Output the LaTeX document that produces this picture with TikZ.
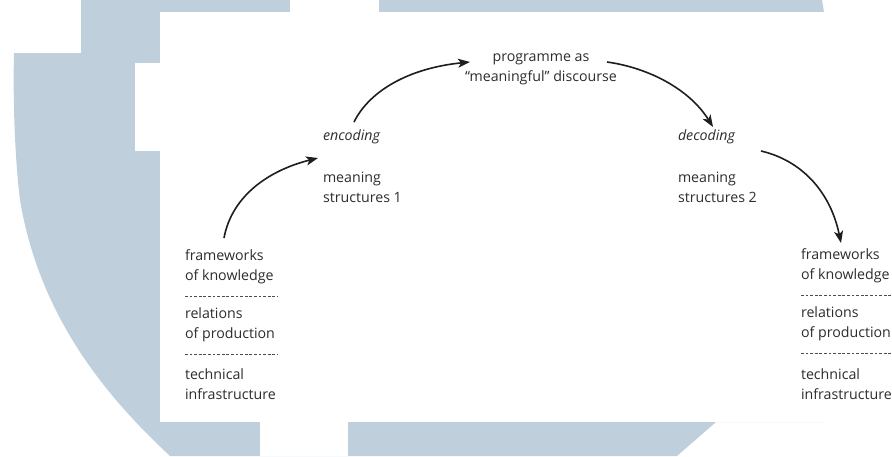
\documentclass[tikz,border=0pt]{standalone}
\usepackage{fontspec}
\setmainfont{Open Sans}
\usetikzlibrary{arrows.meta}
\definecolor{wm}{RGB}{191,207,220}
\definecolor{txt}{RGB}{45,45,45}
\definecolor{arr}{RGB}{30,30,30}
\begin{document}
\begin{tikzpicture}[x=1pt,y=-1pt,
  lbl/.style={inner sep=0pt,outer sep=0pt,text=txt,font=\fontsize{14.2}{20}\selectfont,align=left},
  conn/.style={draw=arr,line width=1.6pt,-{Stealth[length=12pt,width=9pt,inset=3pt]}},
  sep/.style={draw=txt!85,line width=0.7pt,dash pattern=on 2.8pt off 1.8pt}]
\useasboundingbox (0,0) rectangle (892,456);
% watermark
\fill[wm] (81,0) -- (822,0) -- (824,12) -- (824,422) -- (716,422) -- (677,456) -- (170,456)
  .. controls (110,400) and (40,320) .. (20,200) .. controls (14,150) and (13,90) .. (14,53)
  -- (81,53) -- cycle;
\fill[white] (290,0) rectangle (379,12);
\fill[white] (260,422) rectangle (348,456);
\fill[white] (160,12) rectangle (892,422);
\fill[white] (135,63) rectangle (160,151);
% texts
\node[lbl,align=center] (prog) at (541,69) {programme as\\``meaningful'' discourse};
\node[lbl,anchor=west] (enc) at (323,137) {\itshape encoding};
\node[lbl,anchor=west] (ms1) at (323,187) {meaning\\structures 1};
\node[lbl,anchor=west] (dec) at (678,137) {\itshape decoding};
\node[lbl,anchor=west] (ms2) at (678,187) {meaning\\structures 2};
\node[lbl,anchor=west] (l1) at (185,267) {frameworks\\of knowledge};
\node[lbl,anchor=west] (l2) at (185,325) {relations\\of production};
\node[lbl,anchor=west] (l3) at (185,384) {technical\\infrastructure};
\node[lbl,anchor=west] (r1) at (801,266) {frameworks\\of knowledge};
\node[lbl,anchor=west] (r2) at (801,324) {relations\\of production};
\node[lbl,anchor=west] (r3) at (801,384) {technical\\infrastructure};
% separators
\coordinate (ls1a) at (185,296); \coordinate (ls1b) at (278,296);
\coordinate (ls2a) at (185,354); \coordinate (ls2b) at (278,354);
\coordinate (rs1a) at (801,295); \coordinate (rs1b) at (892,295);
\coordinate (rs2a) at (801,353); \coordinate (rs2b) at (892,353);
\draw[sep] (ls1a) -- (ls1b);
\draw[sep] (ls2a) -- (ls2b);
\draw[sep] (rs1a) -- (rs1b);
\draw[sep] (rs2a) -- (rs2b);
% arrows
\coordinate (a0s) at (224,238); \coordinate (a0e) at (318,158);
\coordinate (a1s) at (354,122); \coordinate (a1e) at (470,62);
\coordinate (a2s) at (607,62);  \coordinate (a2e) at (713,127);
\coordinate (a3s) at (761,151); \coordinate (a3e) at (841,243);
\draw[conn] (a0s) .. controls (232,195) and (270,170) .. (a0e);
\draw[conn] (a1s) .. controls (370,90) and (410,68) .. (a1e);
\draw[conn] (a2s) .. controls (650,68) and (690,90) .. (a2e);
\draw[conn] (a3s) .. controls (800,160) and (830,190) .. (a3e);
\end{tikzpicture}
\end{document}
